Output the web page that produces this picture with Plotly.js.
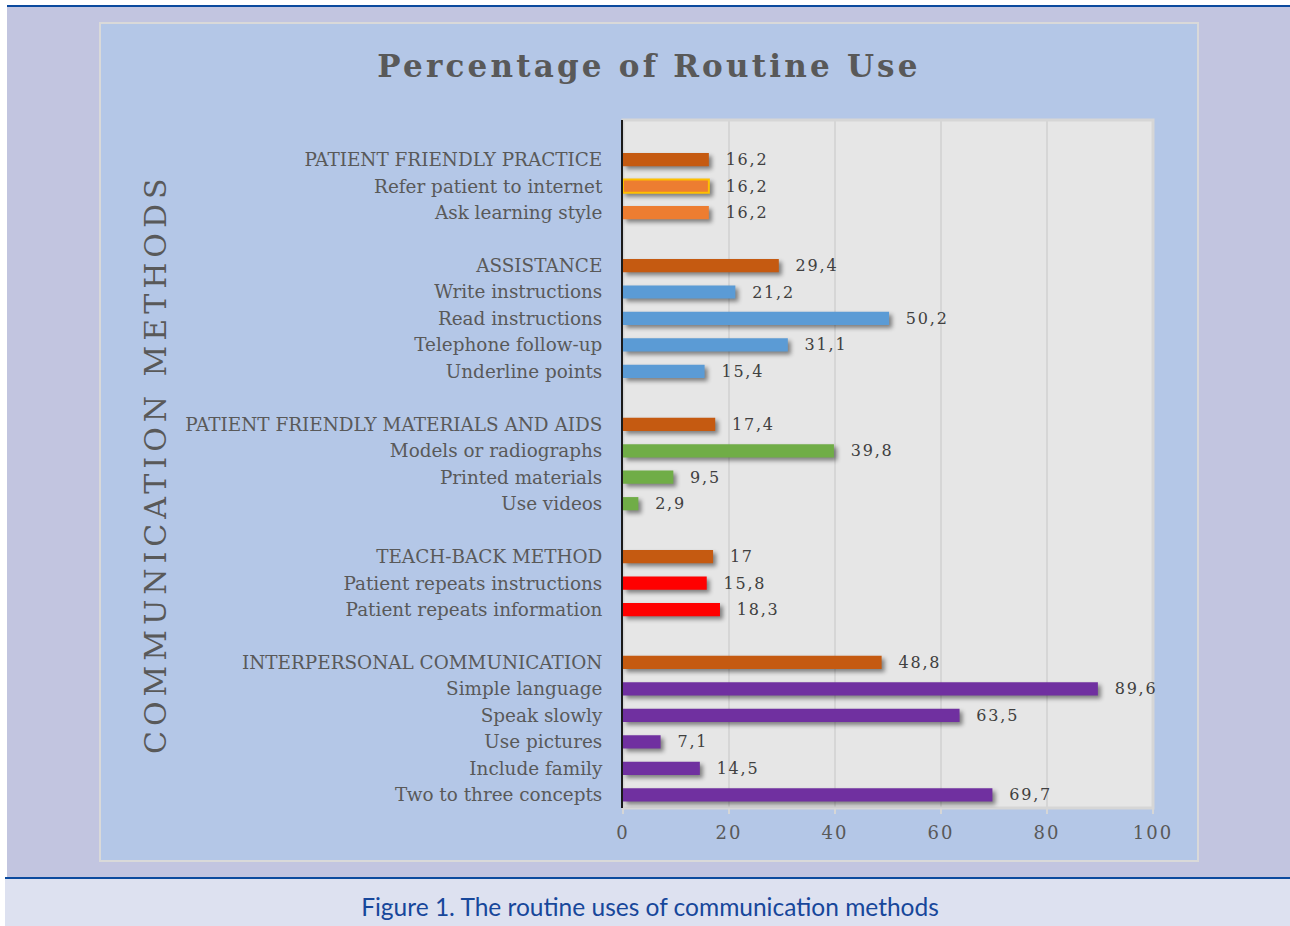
<!DOCTYPE html>
<html><head><meta charset="utf-8">
<script src="https://cdn.plot.ly/plotly-3.0.1.min.js"></script>
<style>
html,body{margin:0;padding:0;background:#fff;width:1290px;height:926px;overflow:hidden;}
#band{position:absolute;left:7px;top:7px;width:1283px;height:871px;background:#C2C5E0;}
#topline{position:absolute;left:7px;top:5px;width:1283px;height:2px;background:#0B4A9E;}
#botline{position:absolute;left:5px;top:877px;width:1285px;height:2px;background:#0B4A9E;}
#capband{position:absolute;left:5px;top:879px;width:1285px;height:47px;background:#DDE1F0;}
#caption{position:absolute;left:0;width:1300px;top:891px;text-align:center;font-family:Lato,'Open Sans',sans-serif;font-size:24.5px;color:#17479B;line-height:32px;}
#chart{position:absolute;left:99px;top:22px;width:1100px;height:840px;}
#frame{position:absolute;left:99px;top:22px;width:1096px;height:836px;border:2px solid #D9D9D9;pointer-events:none;}
.gtitle{letter-spacing:3.2px;}
.barlayer .point path{filter:drop-shadow(3px 3px 2px rgba(0,0,0,0.45));}
.bartext{letter-spacing:1.8px;}
.annotation-text{letter-spacing:5px;}
.xtick text{letter-spacing:2px;}
</style>
</head><body>
<div id="band"></div>
<div id="topline"></div>
<div id="botline"></div>
<div id="capband"></div>
<div id="caption">Figure 1. The routine uses of communication methods</div>
<div id="chart"></div>
<div id="frame"></div>
<script>
// Categories from top to bottom (blank entries are the gaps between groups)
const categories = [
  " ",
  "PATIENT FRIENDLY PRACTICE", "Refer patient to internet", "Ask learning style",
  "  ",
  "ASSISTANCE", "Write instructions", "Read instructions", "Telephone follow-up", "Underline points",
  "   ",
  "PATIENT FRIENDLY MATERIALS AND AIDS", "Models or radiographs", "Printed materials", "Use videos",
  "    ",
  "TEACH-BACK METHOD", "Patient repeats instructions", "Patient repeats information",
  "     ",
  "INTERPERSONAL COMMUNICATION", "Simple language", "Speak slowly", "Use pictures", "Include family", "Two to three concepts"
];
const values = [
  null,
  16.2, 16.2, 16.2,
  null,
  29.4, 21.2, 50.2, 31.1, 15.4,
  null,
  17.4, 39.8, 9.5, 2.9,
  null,
  17, 15.8, 18.3,
  null,
  48.8, 89.6, 63.5, 7.1, 14.5, 69.7
];
const HEAD = "#C55A11", ORANGE = "#ED7D31", BLUE = "#5B9BD5", GREEN = "#70AD47", RED = "#FF0000", PURPLE = "#7030A0";
const barColors = [
  null,
  HEAD, ORANGE, ORANGE,
  null,
  HEAD, BLUE, BLUE, BLUE, BLUE,
  null,
  HEAD, GREEN, GREEN, GREEN,
  null,
  HEAD, RED, RED,
  null,
  HEAD, PURPLE, PURPLE, PURPLE, PURPLE, PURPLE
];
const outlineColors = barColors.map((c, i) => categories[i] === "Refer patient to internet" ? "#FFC000" : c);
const outlineWidths = categories.map(c => c === "Refer patient to internet" ? 2 : 0);
const xTicks = [0, 20, 40, 60, 80, 100];

const trace = {
  type: "bar",
  orientation: "h",
  y: categories,
  x: values,
  width: 0.5,
  marker: {color: barColors, line: {color: outlineColors, width: outlineWidths}},
  texttemplate: "\u00a0\u00a0%{x}",
  textposition: "outside",
  cliponaxis: false,
  constraintext: "none",
  textfont: {family: "DejaVu Serif", size: 16, color: "#404040"},
  hoverinfo: "skip"
};

const layout = {
  width: 1100, height: 840,
  margin: {l: 524, r: 46, t: 98, b: 54},
  paper_bgcolor: "#B4C7E7",
  plot_bgcolor: "#E6E6E6",
  separators: ",.",
  showlegend: false,
  title: {
    text: "Percentage of Routine Use",
    font: {family: "DejaVu Serif", size: 31, weight: "bold", color: "#595959"},
    x: 0.5, xref: "container", xanchor: "center",
    y: 0.948, yref: "container", yanchor: "middle"
  },
  xaxis: {
    range: [0, 100], tickvals: xTicks, ticktext: xTicks.map(String),
    showgrid: true, gridcolor: "#D6D6D6", gridwidth: 1.5,
    zeroline: false, showline: false,
    ticks: "outside", ticklen: 5, tickwidth: 2, tickcolor: "#D6D6D6",
    ticklabelstandoff: 3,
    tickfont: {family: "DejaVu Serif", size: 18, color: "#595959"},
    fixedrange: true
  },
  yaxis: {
    type: "category", categoryorder: "array", categoryarray: categories,
    range: [25.5, -0.5],
    showgrid: false, zeroline: false,
    showline: true, linecolor: "#1A1A1A", linewidth: 2,
    ticks: "", ticklabelstandoff: 15,
    tickfont: {family: "DejaVu Serif", size: 18.4, color: "#595959"},
    fixedrange: true
  },
  shapes: [{
    type: "rect", xref: "paper", yref: "paper", x0: 0, x1: 1, y0: 0, y1: 1,
    line: {color: "#D6D6D6", width: 3}, layer: "below"
  }],
  annotations: [{
    text: "COMMUNICATION METHODS",
    xref: "paper", yref: "paper", x: -0.883, y: 0.5,
    xanchor: "center", yanchor: "middle", textangle: -90, showarrow: false,
    font: {family: "DejaVu Serif", size: 30, color: "#595959"}
  }]
};

Plotly.newPlot("chart", [trace], layout, {staticPlot: true, displayModeBar: false});
</script>
</body></html>
